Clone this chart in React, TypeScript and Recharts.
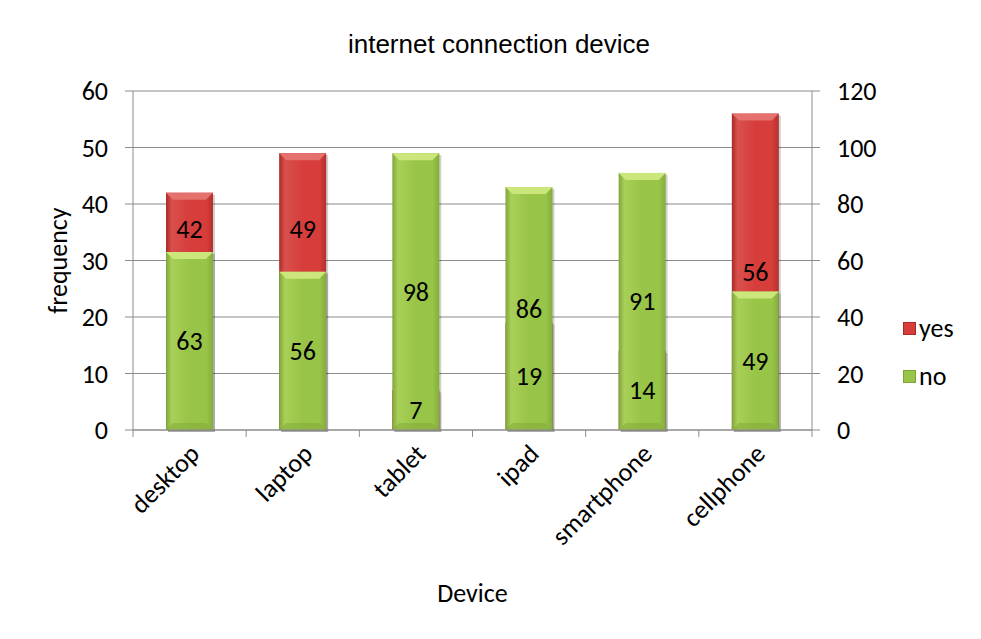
import React from 'react';
import { BarChart, Bar, XAxis, YAxis, CartesianGrid, LabelList, Label } from 'recharts';

// answers per device: "yes" on the left scale, "no" on the right scale
const devices = ['desktop', 'laptop', 'tablet', 'ipad', 'smartphone', 'cellphone'];
const yesCounts = [42, 49, 7, 19, 14, 56];
const noCounts = [63, 56, 98, 86, 91, 49];
const leftTicks = [0, 10, 20, 30, 40, 50, 60];
const rightTicks = [0, 20, 40, 60, 80, 100, 120];

const LEFT_MAX = 60;
const RIGHT_MAX = 120;
const LIFT_TO = 35.5; // yes-labels hidden under a green bar are moved up to this level
const BAR = 47;

const data = devices.map((device, i) => ({ device, yes: yesCounts[i], no: noCounts[i] }));

const FONT = 'Calibri, Carlito, Lato, sans-serif';
const FS = 26;
const AXIS_GRAY = '#8c8c8c';

const TONES: Record<string, { edge: string; light: string; main: string; dark: string; top: string; bottom: string }> = {
  red: { edge: '#a82a28', light: '#d8504d', main: '#d63d3b', dark: '#b2302e', top: '#e4716d', bottom: '#b53331' },
  green: { edge: '#7fa53a', light: '#a8d058', main: '#98c447', dark: '#84ad3c', top: '#cbe77c', bottom: '#86ae3e' }
};

function BevelBar(props: any) {
  const { x, y, width, height, tone } = props;
  if (!height || height <= 0) return null;
  const t = TONES[tone];
  const b = Math.min(7, height / 2);
  return (
    <g>
      <rect x={x + 2} y={y + 2} width={width} height={height} fill="rgba(0,0,0,0.18)" />
      <rect x={x} y={y} width={width} height={height} fill={`url(#body-${tone})`} />
      <polygon points={`${x},${y} ${x + width},${y} ${x + width - b},${y + b} ${x + b},${y + b}`} fill={t.top} />
      <polygon
        points={`${x},${y + height} ${x + width},${y + height} ${x + width - b},${y + height - b} ${x + b},${y + height - b}`}
        fill={t.bottom}
        opacity={0.6}
      />
    </g>
  );
}

function labelText(x: number, y: number, value: number) {
  return (
    <text x={x} y={y} textAnchor="middle" dominantBaseline="central" fontFamily={FONT} fontSize={FS} fill="#000">
      {value}
    </text>
  );
}

function NoLabel(props: any) {
  const { x, y, width, height, value } = props;
  return labelText(x + width / 2, y + height / 2, value);
}

// "yes" label, placed from the green bar's geometry (same column, left scale = right / 2):
// centred in the red bar, unless that centre sits under the green bar
function YesLabel(props: any) {
  const { x, y, width, height, value, index } = props;
  const bottom = y + height;
  const perUnit = height / (noCounts[index] * (LEFT_MAX / RIGHT_MAX));
  const redTop = bottom - value * perUnit;
  let cy = bottom - (value / 2) * perUnit;
  if (redTop < y && cy > y - 12) cy = bottom - LIFT_TO * perUnit;
  return labelText(x + width / 2, cy, value);
}

// category label rotated 45°, tick marks sit on the band edges
function DeviceTick(props: any) {
  const { x, y, payload, index, width, visibleTicksCount } = props;
  const half = width && visibleTicksCount ? width / visibleTicksCount / 2 : 56.6;
  const ax = x + 5;
  const ay = y + 19;
  return (
    <g>
      <line x1={x - half} x2={x - half} y1={y} y2={y + 7} stroke={AXIS_GRAY} />
      {index === devices.length - 1 && <line x1={x + half} x2={x + half} y1={y} y2={y + 7} stroke={AXIS_GRAY} />}
      <text
        x={ax}
        y={ay}
        transform={`rotate(-45 ${ax} ${ay})`}
        textAnchor="end"
        dominantBaseline="central"
        fontFamily={FONT}
        fontSize={FS}
        fill="#000"
      >
        {payload.value}
      </text>
    </g>
  );
}

function LegendBox() {
  const rows = [
    { name: 'yes', tone: 'red' },
    { name: 'no', tone: 'green' }
  ];
  return (
    <div style={{ position: 'absolute', left: 895, top: 296, fontFamily: FONT, fontSize: FS, color: '#000' }}>
      {rows.map((r) => (
        <div key={r.name} style={{ height: 48, display: 'flex', alignItems: 'center' }}>
          <span
            style={{
              display: 'inline-block',
              width: 11,
              height: 11,
              marginRight: 3,
              background: TONES[r.tone].main,
              border: `1px solid ${TONES[r.tone].edge}`
            }}
          />
          {r.name}
        </div>
      ))}
    </div>
  );
}

export default function App() {
  return (
    <div
      style={{
        position: 'relative',
        width: 973,
        height: 631,
        marginTop: -1,
        marginLeft: -1,
        borderTop: `1px solid ${AXIS_GRAY}`,
        borderLeft: `1px solid ${AXIS_GRAY}`,
        background: '#fff',
        overflow: 'hidden'
      }}
    >
      <div
        style={{
          position: 'absolute',
          left: 191,
          top: 21,
          width: 600,
          lineHeight: '30px',
          textAlign: 'center',
          fontFamily: '"Liberation Sans", Arial, sans-serif',
          fontSize: 26,
          color: '#000'
        }}
      >
        internet connection device
      </div>
      <BarChart
        width={973}
        height={631}
        data={data}
        barGap={-BAR}
        margin={{ top: 83, right: 0, bottom: 0, left: 0 }}
      >
        <defs>
          {Object.entries(TONES).map(([k, t]) => (
            <linearGradient key={k} id={`body-${k}`} x1="0" y1="0" x2="1" y2="0">
              <stop offset="0" stopColor={t.edge} />
              <stop offset="0.12" stopColor={t.light} />
              <stop offset="0.5" stopColor={t.main} />
              <stop offset="0.86" stopColor={t.main} />
              <stop offset="1" stopColor={t.dark} />
            </linearGradient>
          ))}
        </defs>
        <CartesianGrid yAxisId="left" vertical={false} stroke={AXIS_GRAY} strokeWidth={1.2} />
        <XAxis
          dataKey="device"
          height={209}
          interval={0}
          stroke={AXIS_GRAY}
          tickLine={false}
          tickSize={0}
          tickMargin={0}
          tick={<DeviceTick />}
        >
          <Label
            content={(p: any) => {
              const vb = p.viewBox;
              return (
                <text x={vb.x + vb.width / 2} y={vb.y + 163} textAnchor="middle" dominantBaseline="central" fontFamily={FONT} fontSize={FS} fill="#000">
                  Device
                </text>
              );
            }}
          />
        </XAxis>
        <YAxis
          yAxisId="left"
          width={125}
          domain={[0, LEFT_MAX]}
          ticks={leftTicks}
          interval={0}
          stroke={AXIS_GRAY}
          tickSize={8}
          tickMargin={17}
          tick={{ fill: '#000', fontSize: FS, fontFamily: FONT }}
        >
          <Label
            content={(p: any) => {
              const vb = p.viewBox;
              const cx = vb.x + 50;
              const cy = vb.y + vb.height / 2;
              return (
                <text x={cx} y={cy} transform={`rotate(-90 ${cx} ${cy})`} textAnchor="middle" dominantBaseline="central" fontFamily={FONT} fontSize={FS} fill="#000">
                  frequency
                </text>
              );
            }}
          />
        </YAxis>
        <YAxis
          yAxisId="right"
          orientation="right"
          width={169}
          domain={[0, RIGHT_MAX]}
          ticks={rightTicks}
          interval={0}
          stroke={AXIS_GRAY}
          tickSize={8}
          tickMargin={17}
          tick={{ fill: '#000', fontSize: FS, fontFamily: FONT, textAnchor: 'start' }}
        />
        <Bar
          dataKey="yes"
          name="yes"
          yAxisId="left"
          barSize={BAR}
          isAnimationActive={false}
          shape={(p: any) => <BevelBar {...p} tone="red" />}
        />
        <Bar
          dataKey="no"
          name="no"
          yAxisId="right"
          barSize={BAR}
          isAnimationActive={false}
          shape={(p: any) => <BevelBar {...p} tone="green" />}
        >
          <LabelList dataKey="no" content={<NoLabel />} />
          <LabelList dataKey="yes" content={<YesLabel />} />
        </Bar>
      </BarChart>
      <LegendBox />
    </div>
  );
}
